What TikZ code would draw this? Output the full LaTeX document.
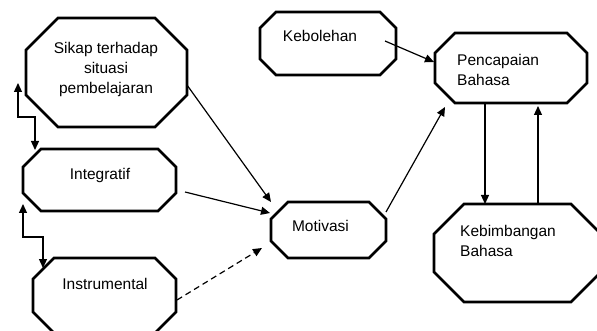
\documentclass[tikz,border=0pt]{standalone}
\usepackage{fontspec}
\setmainfont{Liberation Sans}
\usetikzlibrary{arrows.meta}
\tikzset{
  box/.style={inner sep=0pt, outer sep=0pt},
  boxline/.style={line width=2.8pt},
  txt/.style={font=\fontsize{15.5}{20}\selectfont, inner sep=0pt},
  arr/.style={line width=1.2pt, -{Triangle[length=9pt,width=8pt]}},
  dblarr/.style={line width=1.2pt, {Triangle[length=9pt,width=8pt]}-{Triangle[length=9pt,width=8pt]}}
}
% octagon: name, centre, width, height, chamfer
\newcommand{\octbox}[5]{%
  \node[box, minimum width=#3, minimum height=#4] (#1) at #2 {};
  \draw[boxline] ([xshift=#5]#1.north west) -- ([xshift=-#5]#1.north east)
    -- ([yshift=-#5]#1.north east) -- ([yshift=#5]#1.south east)
    -- ([xshift=-#5]#1.south east) -- ([xshift=#5]#1.south west)
    -- ([yshift=#5]#1.south west) -- ([yshift=-#5]#1.north west) -- cycle;}
\begin{document}
\begin{tikzpicture}[x=1pt,y=-1pt]
  \useasboundingbox (0,0) rectangle (597,331);
  \clip (0,0) rectangle (597,331);
  % boxes
  \octbox{sikap}{(106.5,72.5)}{161pt}{109pt}{32pt}
  \octbox{integ}{(99.5,180)}{153pt}{62pt}{18pt}
  \octbox{instr}{(104.5,295.5)}{143pt}{75pt}{21pt}
  \octbox{motiv}{(328.5,230)}{115pt}{56pt}{17pt}
  \octbox{kebol}{(328,43.5)}{136pt}{63pt}{16pt}
  \octbox{penc}{(511,68)}{152pt}{70pt}{20pt}
  \octbox{kebim}{(517.5,253)}{167pt}{98pt}{30pt}
  % texts
  \node[txt, align=center] (sikap-t) at (106,69.5) {Sikap terhadap\\situasi\\pembelajaran};
  \node[txt] (integ-t) at (100,175) {Integratif};
  \node[txt] (instr-t) at (105,283.5) {Instrumental};
  \node[txt] (motiv-t) at (320.5,226) {Motivasi};
  \node[txt] (kebol-t) at (320,35.5) {Kebolehan};
  \node[txt, align=left, anchor=west] (penc-t) at (457,70) {Pencapaian\\Bahasa};
  \node[txt, align=left, anchor=west] (kebim-t) at (460,241) {Kebimbangan\\Bahasa};
  % arrows
  \draw[arr] ([yshift=-12.5pt]sikap.east) -- (motiv.north west);
  \draw[arr] ([shift={(9pt,-12pt)}]integ.east) -- ([shift={(-1pt,-11pt)}]motiv.north west);
  \draw[arr, dash pattern=on 6pt off 4pt] ([shift={(1pt,-4.5pt)}]instr.east) -- ([shift={(-9pt,10pt)}]motiv.south west);
  \draw[arr] ([yshift=-10pt]motiv.north east) -- ([shift={(10pt,-4pt)}]penc.south west);
  \draw[arr] ([shift={(-11pt,2.5pt)}]kebol.east) -- ([shift={(-1pt,6pt)}]penc.west);
  \draw[arr] ([xshift=-26pt]penc.south) -- ([xshift=-26pt]penc.south |- kebim.north);
  \draw[arr] ([xshift=20.5pt]kebim.north) -- ([shift={(20.5pt,-3pt)}]kebim.north |- penc.south);
  \draw[dblarr] ([shift={(-8pt,-10.5pt)}]sikap.west) -- ++(0,34) -| ([shift={(12pt,-1pt)}]integ.north west);
  \draw[dblarr] ([yshift=7pt]integ.south west) -- ++(0,33) -| ([shift={(10pt,-10pt)}]instr.north west);
\end{tikzpicture}
\end{document}
